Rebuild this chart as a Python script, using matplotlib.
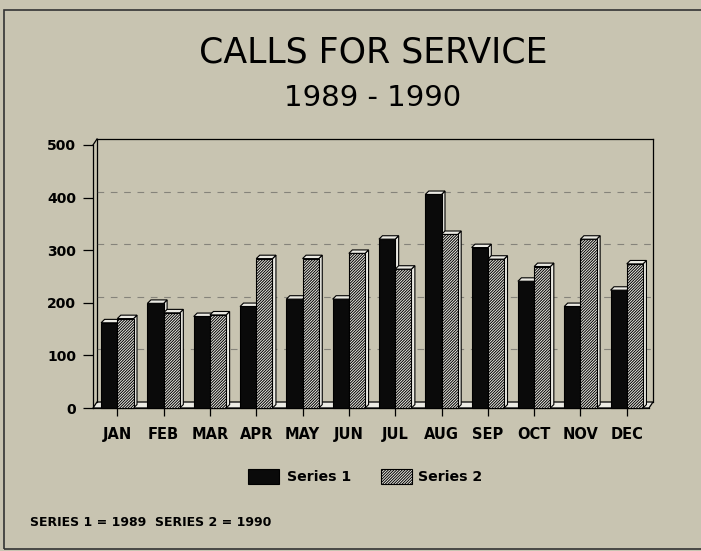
import matplotlib
matplotlib.use('Agg')
import matplotlib.pyplot as plt
from matplotlib.patches import Polygon, Rectangle

# data
months = ['JAN', 'FEB', 'MAR', 'APR', 'MAY', 'JUN', 'JUL', 'AUG', 'SEP', 'OCT', 'NOV', 'DEC']
series1 = [162, 199, 174, 193, 207, 207, 321, 406, 305, 241, 193, 224]
series2 = [170, 181, 177, 284, 284, 294, 264, 330, 283, 269, 321, 274]
yticks = [0, 100, 200, 300, 400, 500]
gridvals = [100, 200, 300, 400]

W, H = 701, 551
bg = '#c8c4b1'
light = '#ecebe4'
hatch = '////////////'
plt.rcParams['hatch.linewidth'] = 0.7
plt.rcParams['font.family'] = 'DejaVu Sans'

fig = plt.figure(figsize=(W / 100, H / 100), dpi=100)
fig.patch.set_facecolor(bg)

# axes placed in pixel terms: front floor edge 93..649, y 408..145
ax = fig.add_axes([93 / W, 1 - 408 / H, (649 - 93) / W, (408 - 145) / H])
ax.set_facecolor('none')
x0, x1 = -0.525, 11.48
ax.set_xlim(x0, x1)
ax.set_ylim(0, 500)

# depth of the back wall and of the bars (data units)
dxw, dyw = 0.086, 11.4
bdx, bdy = 0.075, 6.5
w = 0.35

# back wall outline and floor
floor = Polygon([(x0, 0), (x1, 0), (x1 + dxw, dyw), (x0 + dxw, dyw)], closed=True,
                facecolor=light, edgecolor='black', lw=0.9, clip_on=False, zorder=1)
ax.add_patch(floor)
ax.plot([x0 + dxw, x0 + dxw], [dyw, 500 + dyw], color='black', lw=0.9, clip_on=False, zorder=1)
ax.plot([x0 + dxw, x1 + dxw], [500 + dyw, 500 + dyw], color='black', lw=0.9, clip_on=False, zorder=1)
ax.plot([x1 + dxw, x1 + dxw], [dyw, 500 + dyw], color='black', lw=0.9, clip_on=False, zorder=1)
ax.plot([x0, x0 + dxw], [500, 500 + dyw], color='black', lw=0.9, clip_on=False, zorder=1)

for v in gridvals:
    ax.plot([x0 + dxw, x1 + dxw], [v + dyw, v + dyw], color='#444444', lw=0.8,
            ls=(0, (6, 6)), alpha=0.5, clip_on=False, zorder=1)


def bar3d(xl, v, hatched):
    if hatched:
        front = Rectangle((xl, 0), w, v, facecolor=light, edgecolor='black', hatch=hatch,
                          lw=0.8, clip_on=False, zorder=3)
    else:
        front = Rectangle((xl, 0), w, v, facecolor='#0a0a0a', edgecolor='black',
                          lw=0.8, clip_on=False, zorder=3)
    side = Polygon([(xl + w, 0), (xl + w + bdx, bdy), (xl + w + bdx, v + bdy), (xl + w, v)],
                   closed=True, facecolor=light, edgecolor='black', lw=0.8, clip_on=False, zorder=3)
    cap = Polygon([(xl, v), (xl + w, v), (xl + w + bdx, v + bdy), (xl + bdx, v + bdy)],
                  closed=True, facecolor=light, edgecolor='black', lw=0.8, clip_on=False, zorder=3)
    ax.add_patch(side)
    ax.add_patch(front)
    ax.add_patch(cap)


for i in range(len(months)):
    bar3d(i - w, series1[i], False)
    bar3d(i, series2[i], True)

for s in ['top', 'right']:
    ax.spines[s].set_visible(False)
ax.spines['left'].set_linewidth(0.9)
ax.spines['bottom'].set_linewidth(0.9)
ax.spines['left'].set_zorder(2)
ax.spines['bottom'].set_zorder(2)

ax.set_yticks(yticks)
ax.set_xticks(range(len(months)))
ax.set_xticklabels(months)
ax.tick_params(axis='y', length=7, width=0.9, pad=5, labelsize=10)
ax.tick_params(axis='x', length=6, width=0.9, pad=8, labelsize=10.5)
for lab in ax.get_xticklabels() + ax.get_yticklabels():
    lab.set_fontweight('bold')

# titles
fig.text(373 / W, 1 - 53 / H, 'CALLS FOR SERVICE', ha='center', va='center', fontsize=25)
fig.text(373 / W, 1 - 98 / H, '1989 - 1990', ha='center', va='center', fontsize=21)

# legend drawn by hand
fig.add_artist(Rectangle((248 / W, 1 - 484 / H), 31 / W, 15 / H, transform=fig.transFigure,
                         facecolor='#0a0a0a', edgecolor='black', lw=0.8))
fig.text(287 / W, 1 - 477 / H, 'Series 1', ha='left', va='center', fontsize=10.2, fontweight='bold')
fig.add_artist(Rectangle((381 / W, 1 - 484 / H), 31 / W, 15 / H, transform=fig.transFigure,
                         facecolor=light, edgecolor='black', hatch=hatch, lw=0.8))
fig.text(418 / W, 1 - 477 / H, 'Series 2', ha='left', va='center', fontsize=10.2, fontweight='bold')

fig.text(30 / W, 1 - 523 / H, 'SERIES 1 = 1989  SERIES 2 = 1990', ha='left', va='center',
         fontsize=9, fontweight='bold')

# outer frame
fig.add_artist(Rectangle((4 / W, 1 - 549 / H), 720 / W, 539 / H, transform=fig.transFigure,
                         facecolor='none', edgecolor='#333333', lw=1.2))

fig.savefig('out.png', dpi=100, facecolor=bg)
